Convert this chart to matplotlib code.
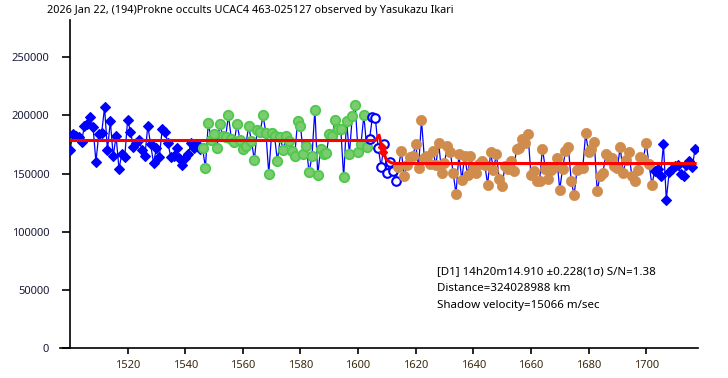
import matplotlib
matplotlib.use("Agg")
import matplotlib.pyplot as plt
import numpy as np

plt.rcParams["font.family"] = ["Noto Sans", "DejaVu Sans"]

TITLE = "2026 Jan 22, (194)Prokne occults UCAC4 463-025127 observed by Yasukazu Ikari"
INFO_LINES = [
    "[D1] 14h20m14.910 \u00b10.228(1\u03c3) S/N=1.38",
    "Distance=324028988 km",
    "Shadow velocity=15066 m/sec",
]
FIRST_FRAME = 1500

# light curve, split by how the points are drawn (frame order)
pre_blue = [170000, 184000, 182000, 181000, 177000, 191000, 193000, 199000, 190000, 160000,
            184000, 185000, 207000, 170000, 195000, 165000, 182000, 154000, 167000, 164000,
            196000, 186000, 173000, 176000, 179000, 170000, 165000, 191000, 175000, 159000,
            172000, 164000, 188000, 186000, 176000, 164000, 165000, 172000, 163000, 157000,
            163000, 167000, 176000, 172000, 175000, 171000]
pre_green = [172000, 155000, 193700, 179000, 184000, 172000, 192800, 181900, 181000, 200000,
             180000, 177000, 192800, 179000, 170700, 173500, 190800, 178000, 161500, 187600,
             185600, 200000, 185000, 150000, 184500,
             182000, 160600, 181000, 170000, 182000, 178000, 169000, 165000, 195000, 191000,
             166400, 173500, 151000, 165000, 205000, 148600, 171500, 167000, 167500, 184000,
             182000, 196000, 188500, 188000, 146800, 195000, 167000, 199400, 208800, 168400,
             175000, 200000, 172600]
transit = [180000, 199000, 197500, 172000, 155700, 175800, 150600, 159500, 152000, 143500]
post_brown = [155500, 169300, 148300, 157700, 164000, 165200, 175000, 154900, 196000, 163500,
              165000, 158300, 169300, 157200, 176200, 150600, 159200, 173500, 168600, 150600,
              132500, 166400, 144800, 165000, 149100, 165000, 154300, 150600, 158000,
              160800, 157000, 140500, 168400, 153400, 166400, 145700, 139600, 156600, 154000,
              160600, 152000, 171500, 172000, 180000, 176500, 183600, 149100, 152000, 143400,
              143800, 171500, 154300, 145700, 153400, 155800, 163000, 136200, 154300, 169300,
              172600, 143400, 131400, 153400, 154900, 155000, 184500, 168400, 170700, 177000,
              134900, 148300, 150600, 166400, 164300, 163500, 156600, 154900, 172600, 150600,
              162000, 168400, 148300, 143400, 152900, 164300, 162600, 176500, 158000, 140500]
post_blue = [152600, 154300, 147700, 175000, 127600, 151400, 154300, 156300, 157700, 149700,
             147700, 157700, 160600, 155400, 171500]

# fitted model (red)
model_x = [1500, 1606, 1607.3, 1608.5, 1609.8, 1611.5, 1613, 1717]
model_y = [178400, 178400, 183000, 170000, 162000, 159200, 158600, 158600]
event_x = [1608.4, 1608.7]
event_y = [172500, 168500]

segments = [pre_blue, pre_green, transit, post_brown, post_blue]
values = np.concatenate(segments)
frames = FIRST_FRAME + np.arange(len(values))
bounds = np.cumsum([0] + [len(s) for s in segments])

fig = plt.figure(figsize=(7.28, 3.78), dpi=100)
ax = fig.add_axes([70 / 728, 30 / 378, 628 / 728, 328 / 378])

ax.plot(frames, values, color="#0000ff", linewidth=0.9, zorder=2)

styles = [
    dict(marker="D", ms=4.6, mfc="#0000ff", mec="#0000ff", mew=0.8),
    dict(marker="o", ms=6.8, mfc="#7ccb6c", mec="#4fc84f", mew=1.3),
    dict(marker="o", ms=6.2, mfc="white", mec="#0000ff", mew=1.5),
    dict(marker="o", ms=7.4, mfc="#d08c4c", mec="#d08c4c", mew=0.5),
    dict(marker="D", ms=4.6, mfc="#0000ff", mec="#0000ff", mew=0.8),
]
for i, st in enumerate(styles):
    sl = slice(bounds[i], bounds[i + 1])
    ax.plot(frames[sl], values[sl], linestyle="none", zorder=3, **st)

ax.plot(model_x, model_y, color="#ff0000", linewidth=2.2, zorder=4)
ax.plot(event_x, event_y, linestyle="none", marker="D", ms=4, color="#ff0000", zorder=5)

ax.set_xlim(1500, 1718)
ax.set_ylim(0, 282000)
ax.set_xticks(range(1520, 1701, 20))
ax.set_yticks(range(0, 250001, 50000))

for side in ("top", "right"):
    ax.spines[side].set_visible(False)
ax.spines["left"].set_linewidth(1.2)
ax.spines["bottom"].set_linewidth(1.2)
ax.spines["bottom"].set_bounds(1500 - 3.5, 1718)
ax.tick_params(axis="y", length=6, width=1.2, pad=9, labelsize=8, labelcolor="#1a1a3a")
ax.tick_params(axis="x", length=4, width=1.2, pad=5, labelsize=8, labelcolor="#3a2a10")

fig.text(47 / 728, 1 - 11 / 378, TITLE, fontsize=7.8, va="center", ha="left")

for i, line in enumerate(INFO_LINES):
    ax.text(0.584, 0.233 - i * 0.052, line, transform=ax.transAxes,
            fontsize=8.3, va="center", ha="left")

fig.savefig("out.png", dpi=100)
